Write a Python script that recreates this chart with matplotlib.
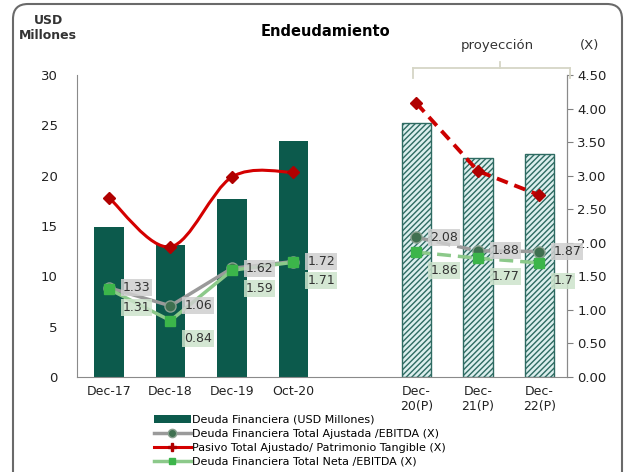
import numpy as np
import matplotlib
matplotlib.use("Agg")
import matplotlib.pyplot as plt
from matplotlib.path import Path
from matplotlib.patches import PathPatch, FancyBboxPatch, Patch
from matplotlib.lines import Line2D

plt.rcParams['font.family'] = ['DejaVu Sans']
plt.rcParams['hatch.color'] = '#4f8a82'

categories = ['Dec-17', 'Dec-18', 'Dec-19', 'Oct-20', '', 'Dec-\n20(P)', 'Dec-\n21(P)', 'Dec-\n22(P)']
deuda = [14.9, 13.1, 17.7, 23.4, np.nan, 25.2, 21.8, 22.2]
ajustada = [1.33, 1.06, 1.62, 1.72, np.nan, 2.08, 1.88, 1.87]
pasivo = [2.67, 1.94, 2.98, 3.05, np.nan, 4.08, 3.07, 2.71]
neta = [1.31, 0.84, 1.59, 1.71, np.nan, 1.86, 1.77, 1.70]
proj_start = 5  # first projected category index

fig = plt.figure(figsize=(6.3, 4.72), dpi=100)
ax = fig.add_axes([77/630, 1-377/472, (567-77)/630, (377-75)/472])
ax2 = ax.twinx()

x = np.arange(len(categories))
hist = x < proj_start - 1
proj = x >= proj_start
dv = np.array(deuda)
ax.bar(x[hist], dv[hist], width=0.48, color='#0c5a4c', zorder=2)
ax.bar(x[proj], dv[proj], width=0.48, facecolor='#dcefee', edgecolor='#2e6b62',
       hatch='//////', linewidth=1.0, zorder=2)

ax.set_xlim(-0.52, 7.45)
ax.set_ylim(0, 30)
ax.set_yticks(np.arange(0, 31, 5))
ax.set_xticks(x)
ax.set_xticklabels(categories, fontsize=9, color='#222222')
ax.tick_params(axis='x', length=0, pad=6)
ax.tick_params(axis='y', length=0, pad=14, labelsize=9.5, colors='#222222')
ax2.set_ylim(0, 4.5)
ax2.set_yticks(np.arange(0, 4.51, 0.5))
ax2.set_yticklabels([f'{v:.2f}' for v in np.arange(0, 4.51, 0.5)])
ax2.tick_params(axis='y', length=4, labelsize=9.5, colors='#222222', color='#808080')
for a in (ax, ax2):
    a.spines['top'].set_visible(False)
    for s in ('left', 'right', 'bottom'):
        a.spines[s].set_color('#8a8a8a')
ax2.spines['left'].set_visible(False)
ax2.spines['bottom'].set_visible(False)

# smoothed red line (historic)
def smooth_path(xs, ys):
    pts = np.column_stack([xs, ys])
    verts = [pts[0]]
    codes = [Path.MOVETO]
    n = len(pts)
    for i in range(n - 1):
        p0 = pts[max(i - 1, 0)]
        p1 = pts[i]
        p2 = pts[i + 1]
        p3 = pts[min(i + 2, n - 1)]
        c1 = p1 + (p2 - p0) / 6
        c2 = p2 - (p3 - p1) / 6
        verts += [c1, c2, p2]
        codes += [Path.CURVE4] * 3
    return Path(verts, codes)

pv = np.array(pasivo)
hx = x[hist]
ax2.add_patch(PathPatch(smooth_path(hx, pv[hist]), facecolor='none', edgecolor='#d40000',
                        linewidth=2.2, zorder=4))
ax2.plot(hx, pv[hist], linestyle='none', marker='D', markersize=6, color='#b00000', zorder=5)
ax2.plot(x[proj], pv[proj], linestyle=(0, (3, 1.8)), linewidth=2.8, color='#cc0000',
         marker='D', markersize=6, markerfacecolor='#b00000', markeredgecolor='#b00000', zorder=5)

av = np.array(ajustada)
nv = np.array(neta)
gray_line = '#9a9a9a'
green_line = '#8cc98a'
ax2.plot(hx, av[hist], color=gray_line, linewidth=2.5, zorder=6)
ax2.plot(x[proj], av[proj], color=gray_line, linewidth=2.5, linestyle=(0, (4, 2)), zorder=6)
ax2.plot(hx, nv[hist], color=green_line, linewidth=2.5, zorder=6)
ax2.plot(x[proj], nv[proj], color=green_line, linewidth=2.5, linestyle=(0, (4, 2)), zorder=6)
ax2.plot(x, av, linestyle='none', marker='o', markersize=8, markerfacecolor='#3f7050',
         markeredgecolor='#8aa090', markeredgewidth=1, zorder=7)
ax2.plot(x, nv, linestyle='none', marker='s', markersize=6.5, markerfacecolor='#3cb54a',
         markeredgecolor='#3cb54a', zorder=8)

for xi, a_, n_ in zip(x, ajustada, neta):
    if np.isnan(a_):
        continue
    ax2.annotate(f'{a_:.2f}', (xi, a_),
                 xytext=(10, 0), textcoords='offset points', ha='left', va='center',
                 fontsize=9, color='#333333', zorder=9,
                 bbox=dict(boxstyle='square,pad=0.15', facecolor='#cfcfcf', edgecolor='none', alpha=0.85))
    s = f'{n_:.2f}'
    lbl = s[:-1] if s.endswith('0') else s
    ax2.annotate(lbl, (xi, n_), xytext=(10, -13), textcoords='offset points', ha='left', va='center',
                 fontsize=9, color='#333333', zorder=9,
                 bbox=dict(boxstyle='square,pad=0.15', facecolor='#cde3cc', edgecolor='none', alpha=0.85))

# texts
fig.text(325/630, 1-32/472, 'Endeudamiento', ha='center', va='center', fontsize=10.5, fontweight='bold')
fig.text(48/630, 1-28/472, 'USD\nMillones', ha='center', va='center', fontsize=9, fontweight='bold',
         color='#333333', linespacing=1.2)
fig.text(590/630, 1-46/472, '(X)', ha='center', va='center', fontsize=9.5, color='#333333')
fig.text(497/630, 1-46/472, 'proyección', ha='center', va='center', fontsize=9.5, color='#333333')
bc = '#d6d6c6'
fig.add_artist(Line2D([413/630, 570/630], [1-68/472, 1-68/472], color=bc, lw=1.3))
fig.add_artist(Line2D([413/630, 413/630], [1-68/472, 1-78/472], color=bc, lw=1.3))
fig.add_artist(Line2D([570/630, 570/630], [1-68/472, 1-78/472], color=bc, lw=1.3))
fig.add_artist(Line2D([500/630, 500/630], [1-62/472, 1-68/472], color=bc, lw=1.3))

# frame
frame = FancyBboxPatch((0.13, -0.5), 6.09, 5.18, boxstyle='round,pad=0,rounding_size=0.15',
                       transform=fig.dpi_scale_trans, facecolor='none', edgecolor='#6a6a6a', lw=1.5)
fig.add_artist(frame)

handles = [
    Patch(facecolor='#0c5a4c'),
    Line2D([], [], color=gray_line, lw=2.5, marker='o', markersize=6, markerfacecolor='#3f7050',
           markeredgecolor='#8aa090'),
    Line2D([], [], color='#d40000', lw=2.2, marker='P', markersize=6, markerfacecolor='#b00000',
           markeredgecolor='#b00000'),
    Line2D([], [], color=green_line, lw=2.5, marker='s', markersize=5, markerfacecolor='#3cb54a',
           markeredgecolor='#3cb54a'),
]
labels = ['Deuda Financiera (USD Millones)', 'Deuda Financiera Total Ajustada /EBITDA (X)',
          'Pasivo Total Ajustado/ Patrimonio Tangible (X)', 'Deuda Financiera Total Neta /EBITDA (X)']
fig.legend(handles, labels, loc='upper left', bbox_to_anchor=(154/630, 1-415/472), frameon=False,
           fontsize=8, handlelength=3.3, handletextpad=0.1, labelspacing=0.36, borderpad=0,
           borderaxespad=0)

fig.savefig('out.png', dpi=100)
